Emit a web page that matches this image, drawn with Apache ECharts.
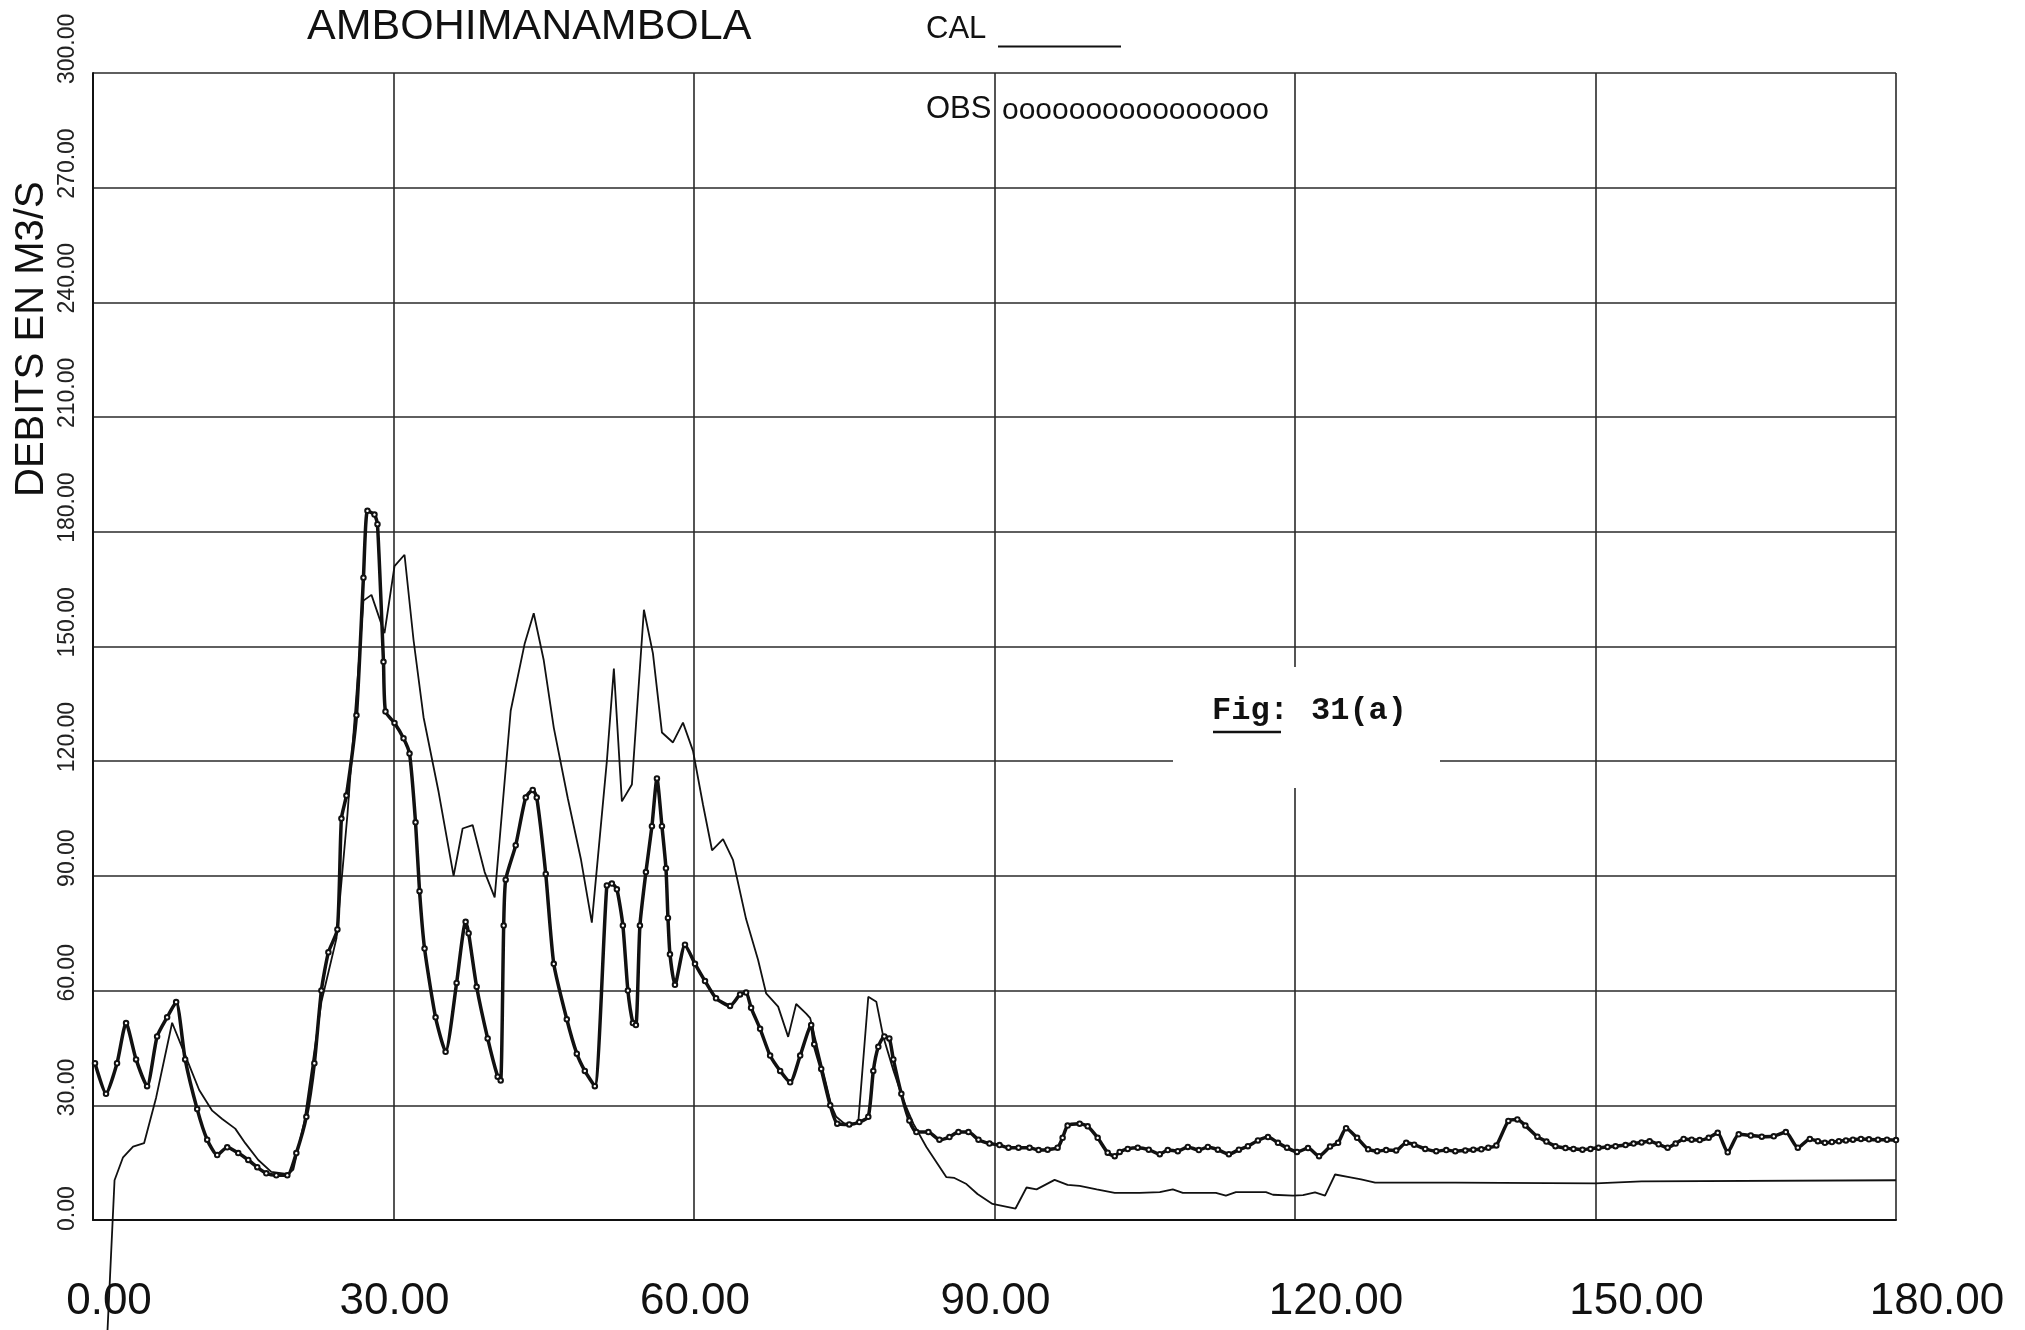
<!DOCTYPE html>
<html>
<head>
<meta charset="utf-8">
<script src="https://cdn.jsdelivr.net/npm/echarts@6/dist/echarts.min.js"></script>
<style>
  html, body { margin: 0; padding: 0; background: #ffffff; }
  #chart { width: 2025px; height: 1330px; }
</style>
</head>
<body>
<div id="chart"></div>
<script>
// Station hydrograph: simulated (CAL) and observed (OBS) discharge, m3/s, vs. day number.
const stationName = 'AMBOHIMANAMBOLA';
const yTitle = 'DEBITS EN M3/S';
const figLabel = 'Fig:';
const figNumber = '31(a)';
const xTickValues = [0, 30, 60, 90, 120, 150, 180];
const yTickValues = [0, 30, 60, 90, 120, 150, 180, 210, 240, 270, 300];

// Observed flows (day, m3/s)
const obsDays = [
  0.2, 1.3, 2.4, 3.3, 4.3, 5.4, 6.4, 7.4, 8.3, 9.2,
  10.4, 11.4, 12.4, 13.4, 14.5, 15.5, 16.4, 17.3, 18.3, 19.4,
  20.3, 21.3, 22.1, 22.8, 23.5, 24.4, 24.8, 25.3, 26.3, 27.0,
  27.4, 28.1, 28.4, 29.0, 29.2, 30.1, 31.0, 31.6, 32.2, 32.6,
  33.1, 34.2, 35.2, 36.3, 37.2, 37.5, 38.3, 39.4, 40.4, 40.7,
  41.0, 41.2, 42.2, 43.2, 43.9, 44.3, 45.2, 46.0, 47.3, 48.3,
  49.1, 50.1, 51.3, 51.8, 52.3, 52.9, 53.4, 53.9, 54.2, 54.6,
  55.2, 55.8, 56.3, 56.8, 57.2, 57.4, 57.6, 58.1, 59.1, 60.1,
  61.1, 62.2, 63.6, 64.6, 65.2, 65.7, 66.6, 67.6, 68.6, 69.6,
  70.6, 71.7, 72.0, 72.7, 73.6, 74.3, 75.5, 76.5, 77.4, 77.9,
  78.4, 79.0, 79.5, 79.9, 80.7, 81.5, 82.2, 83.4, 84.5, 85.5,
  86.4, 87.4, 88.4, 89.5, 90.5, 91.4, 92.4, 93.5, 94.4, 95.3,
  96.3, 96.8, 97.3, 98.5, 99.3, 100.3, 101.3, 102.0, 102.5, 103.3,
  104.3, 105.4, 106.5, 107.3, 108.3, 109.3, 110.4, 111.3, 112.3, 113.4,
  114.4, 115.3, 116.3, 117.3, 118.3, 119.2, 120.2, 121.3, 122.4, 123.5,
  124.3, 125.1, 126.2, 127.3, 128.2, 129.1, 130.1, 131.1, 131.9, 133.0,
  134.1, 135.1, 136.0, 137.0, 137.8, 138.6, 139.3, 140.1, 141.3, 142.2,
  143.0, 144.2, 145.1, 146.0, 147.0, 147.8, 148.7, 149.5, 150.3, 151.2,
  152.0, 153.0, 153.8, 154.6, 155.4, 156.3, 157.2, 158.0, 158.8, 159.6,
  160.4, 161.3, 162.2, 163.2, 164.3, 165.5, 166.6, 167.8, 169.0, 170.2,
  171.4, 172.2, 172.9, 173.6, 174.3, 175.0, 175.7, 176.5, 177.3, 178.2,
  179.1, 180.0
];
const obsFlows = [
  41, 33, 41, 51.5, 42, 35, 48, 53, 57, 42,
  29, 21, 17, 19, 17.5, 15.7, 13.8, 12.2, 11.7, 11.7,
  17.5, 27, 41, 60, 70, 76, 105, 111, 132, 168,
  185.5, 184.5, 182, 146, 133, 130, 126, 122, 104, 86,
  71, 53, 44, 62, 78, 75, 61, 47.5, 37.5, 36.5,
  77, 89, 98, 110.5, 112.5, 110.5, 90.5, 67, 52.5, 43.5,
  39, 35, 87.5, 88, 86.5, 77, 60, 51.5, 51, 77,
  91, 103, 115.5, 103, 92, 79, 69.5, 61.5, 72, 67,
  62.5, 58, 56, 59, 59.5, 55.5, 50, 43, 39, 36,
  43, 51, 46, 39.5, 30, 25.2, 25, 25.6, 27, 39,
  45.3, 48, 47.5, 42, 33, 26, 23, 23, 21, 21.7,
  23, 23, 21, 20, 19.6, 18.9, 18.9, 18.9, 18.3, 18.4,
  18.9, 21.5, 24.7, 25.2, 24.5, 21.5, 17.6, 16.7, 17.8, 18.6,
  18.9, 18.4, 17.2, 18.3, 18, 19.1, 18.3, 19.1, 18.4, 17.2,
  18.4, 19.3, 20.8, 21.7, 20.2, 18.9, 17.8, 18.8, 16.7, 19.2,
  20.2, 24, 21.5, 18.5, 18, 18.3, 18.2, 20.2, 19.7, 18.6,
  18, 18.3, 18, 18.2, 18.4, 18.5, 18.9, 19.5, 25.9, 26.3,
  24.7, 21.8, 20.5, 19.3, 18.8, 18.6, 18.4, 18.6, 18.9, 19.1,
  19.3, 19.6, 20, 20.3, 20.6, 19.8, 18.9, 20, 21.2, 21,
  20.9, 21.5, 22.8, 17.7, 22.4, 22.1, 21.8, 21.9, 23, 18.9,
  21.2, 20.6, 20.2, 20.4, 20.6, 20.8, 21, 21.2, 21.1, 21,
  21, 20.9
];

// Simulated flows (day, m3/s); the first vertex lies below the axis minimum
const calDays = [
  1.0, 2.15, 3.0, 4.0, 5.1, 6.3, 7.9, 9.25, 10.6, 11.9,
  12.9, 14.2, 15.2, 16.5, 17.8, 19.5, 20.0, 21.1, 22.8, 24.3,
  25.4, 27.0, 27.8, 29.1, 30.1, 31.1, 32.0, 33.0, 34.5, 36.0,
  36.9, 37.9, 39.1, 40.1, 41.7, 43.1, 44.0, 45.0, 46.0, 47.4,
  48.7, 49.8, 51.3, 52.0, 52.8, 53.8, 55.0, 55.9, 56.8, 57.9,
  58.9, 59.9, 60.9, 61.8, 62.9, 63.9, 65.2, 66.4, 67.2, 68.4,
  69.4, 70.2, 71.2, 71.6, 73.7, 74.2, 75.2, 76.4, 77.4, 78.2,
  78.9, 79.9, 80.9, 81.9, 83.2, 85.2, 86.0, 87.2, 88.3, 89.8,
  92.1, 93.2, 94.2, 96.0, 97.3, 98.5, 100.2, 102.0, 104.5, 106.5,
  107.8, 108.8, 110.5, 112.1, 113.1, 114.1, 117.1, 117.8, 119.8, 120.8,
  122.0, 123.0, 124.0, 125.4, 126.6, 128.0, 136.0, 150.0, 154.6, 180.0
];
const calFlows = [
  -54, 10.4, 16.4, 19.2, 20.1, 32, 51.6, 42.8, 34, 28.6,
  26.4, 23.9, 20.1, 15.7, 12.6, 12, 13.2, 25.8, 57, 73.6,
  106, 162, 163.5, 153.5, 171, 174, 151.7, 131.5, 112, 90,
  102.4, 103.3, 91, 84.4, 133.2, 150.8, 158.7, 146.4, 128.8, 110.3,
  94.5, 77.8, 120, 144.2, 109.5, 113.9, 159.6, 148.2, 127.5, 124.9,
  130.1, 122.7, 108.6, 96.7, 99.6, 94.1, 78.7, 68, 59.3, 55.8,
  47.9, 56.5, 54, 52.8, 30, 27, 24.8, 25.6, 58.4, 57.1,
  47.9, 39.2, 31.3, 25.2, 19.1, 11.2, 11, 9.4, 6.8, 4.2,
  3, 8.5, 8, 10.5, 9.2, 8.9, 8, 7.1, 7.1, 7.3,
  8, 7.1, 7.1, 7.1, 6.4, 7.3, 7.3, 6.6, 6.4, 6.5,
  7.2, 6.4, 11.9, 11.2, 10.6, 9.8, 9.8, 9.6, 10.1, 10.4
];

const obsData = obsDays.map((d, i) => [d, obsFlows[i]]);
const calData = calDays.map((d, i) => [d, calFlows[i]]);

const FONT = '"Liberation Sans", Arial, Helvetica, sans-serif';
const MONO = 'bold 32px "Liberation Mono", "Courier New", monospace';
const INK = '#111111';
const GRID = '#2a2a2a';

// The plotter printed the day labels a little to the right of their grid lines
function dayLabel(v) {
  const txt = v.toFixed(2);
  if (v === 0) return '{first|' + txt + '}';
  if (v >= 120) return '{late|' + txt + '}';
  return '{mid|' + txt + '}';
}
const dayLabelFont = { fontSize: 44, fontFamily: FONT, color: INK };

const chart = echarts.init(document.getElementById('chart'), null, { renderer: 'canvas' });

chart.setOption({
  animation: false,
  backgroundColor: '#ffffff',
  grid: { left: 93, right: 129, top: 73, bottom: 110 },
  xAxis: {
    type: 'value',
    min: xTickValues[0],
    max: xTickValues[xTickValues.length - 1],
    interval: xTickValues[1] - xTickValues[0],
    axisLine: { show: true, onZero: false, lineStyle: { color: INK, width: 2 } },
    axisTick: { show: false },
    splitLine: { show: true, lineStyle: { color: GRID, width: 1.6 } },
    axisLabel: {
      show: true,
      showMinLabel: true,
      showMaxLabel: true,
      margin: 60,
      fontSize: 44,
      fontFamily: FONT,
      color: INK,
      formatter: dayLabel,
      rich: {
        first: Object.assign({ padding: [0, 0, 0, 32] }, dayLabelFont),
        mid: Object.assign({ padding: [0, 0, 0, 2] }, dayLabelFont),
        late: Object.assign({ padding: [0, 0, 0, 82] }, dayLabelFont)
      }
    }
  },
  yAxis: {
    type: 'value',
    min: yTickValues[0],
    max: yTickValues[yTickValues.length - 1],
    interval: yTickValues[1] - yTickValues[0],
    axisLine: { show: true, onZero: false, lineStyle: { color: INK, width: 2 } },
    axisTick: { show: false },
    splitLine: { show: true, lineStyle: { color: GRID, width: 1.6 } },
    axisLabel: {
      show: true,
      showMinLabel: true,
      showMaxLabel: true,
      rotate: 90,
      align: 'left',
      verticalAlign: 'bottom',
      padding: [0, 0, 0, -11],
      margin: 14,
      fontSize: 23,
      fontFamily: FONT,
      color: '#222222',
      formatter: v => v.toFixed(2)
    }
  },
  series: [
    {
      name: 'CAL',
      type: 'line',
      data: calData,
      symbol: 'none',
      clip: false,
      lineStyle: { color: INK, width: 1.8 },
      z: 3
    },
    {
      name: 'OBS',
      type: 'line',
      data: obsData,
      symbol: 'emptyCircle',
      symbolSize: 4.5,
      smooth: 0.2,
      itemStyle: { color: INK, borderColor: INK, borderWidth: 1 },
      lineStyle: { color: INK, width: 3.5 },
      z: 4
    }
  ],
  graphic: [
    {
      type: 'text', x: 307, y: 27, z: 10,
      style: { text: stationName, font: '43px ' + FONT, fill: INK, align: 'left', verticalAlign: 'middle' }
    },
    {
      type: 'text', x: 32, y: 497, rotation: Math.PI / 2, z: 10,
      style: { text: yTitle, font: '40px ' + FONT, fill: INK, align: 'left', verticalAlign: 'middle' }
    },
    {
      type: 'text', x: 926, y: 29, z: 10,
      style: { text: 'CAL', font: '31px ' + FONT, fill: INK, align: 'left', verticalAlign: 'middle' }
    },
    {
      type: 'line', z: 10,
      shape: { x1: 998, y1: 46.5, x2: 1121, y2: 46.5 },
      style: { stroke: INK, lineWidth: 2 }
    },
    {
      type: 'text', x: 926, y: 109, z: 10,
      style: { text: 'OBS', font: '31px ' + FONT, fill: INK, align: 'left', verticalAlign: 'middle' }
    },
    {
      type: 'text', x: 1002, y: 111, z: 10,
      style: { text: 'oooooooooooooooo', font: '30px ' + FONT, fill: INK, align: 'left', verticalAlign: 'middle' }
    },
    {
      type: 'rect', z: 9,
      shape: { x: 1173, y: 667, width: 267, height: 121 },
      style: { fill: '#ffffff' }
    },
    {
      type: 'text', x: 1212, y: 711, z: 10,
      style: { text: figLabel, font: MONO, fill: INK, align: 'left', verticalAlign: 'middle' }
    },
    {
      type: 'text', x: 1311, y: 711, z: 10,
      style: { text: figNumber, font: MONO, fill: INK, align: 'left', verticalAlign: 'middle' }
    },
    {
      type: 'line', z: 10,
      shape: { x1: 1213, y1: 732, x2: 1281, y2: 732 },
      style: { stroke: INK, lineWidth: 2.5 }
    }
  ]
});
</script>
</body>
</html>
